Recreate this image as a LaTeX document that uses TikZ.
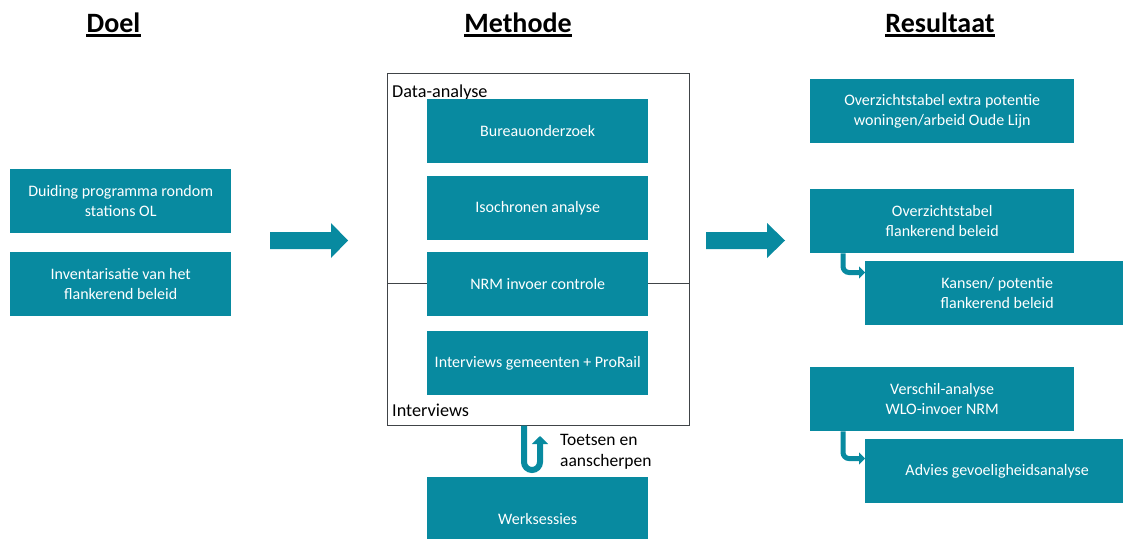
\documentclass[tikz,border=0pt]{standalone}
\usepackage{fontspec}
\setmainfont{Carlito}
\usetikzlibrary{arrows.meta,calc}
\definecolor{tealbox}{RGB}{8,138,160}
\definecolor{frame}{RGB}{64,68,72}
\tikzset{
  box/.style={fill=tealbox, text=white, inner sep=0pt, align=center, anchor=north west,
    minimum height=64, font=\fontsize{16}{20.5}\selectfont},
  wbox/.style={box, minimum width=221},
  rbox/.style={box, minimum width=264},
  heading/.style={font=\fontsize{28}{32}\selectfont\bfseries, anchor=base, inner sep=0pt},
  lbl/.style={font=\fontsize{18.2}{21}\selectfont, anchor=base west, inner sep=0pt, align=left},
  elbow/.style={draw=tealbox, line width=5, rounded corners=6, -{Triangle[width=12pt,length=6pt]}},
}
\begin{document}
\begin{tikzpicture}[x=1pt,y=-1pt]
\clip (0,0) rectangle (1123,538);
\fill[white] (0,0) rectangle (1123,538);

% headings
\node[heading] (hdoel) at (113.5,32) {Doel};
\node[heading] (hmeth) at (518,32) {Methode};
\node[heading] (hres) at (940,32) {Resultaat};
\foreach \h in {hdoel,hmeth,hres}{
  \draw[line width=2.5] ($(\h.base west)+(0,3.5)$) -- ($(\h.base east)+(0,3.5)$);
}

% Doel
\node[wbox] (d1) at (10,169) {Duiding programma rondom\\stations OL};
\node[wbox] (d2) at (10,252) {Inventarisatie van het\\flankerend beleid};

% block arrows
\fill[tealbox] (270,232) -- (331,232) -- (331,223) -- (348,240.5) -- (331,258) -- (331,249) -- (270,249) -- cycle;
\fill[tealbox] (706,232) -- (767,232) -- (767,223) -- (785,240.5) -- (767,258) -- (767,249) -- (706,249) -- cycle;

% Methode frame
\draw[frame, line width=1] (387,73) rectangle (689,425);
\draw[frame, line width=1] (387,283.5) -- (689,283.5);
\node[lbl] (ldata) at (392,97) {Data-analyse};
\node[lbl] (lint) at (392,416) {Interviews};

\node[wbox] (m1) at (427,99) {Bureauonderzoek};
\node[wbox] (m2) at (427,176) {Isochronen analyse};
\node[wbox] (m3) at (427,252) {NRM invoer controle};
\node[wbox] (m4) at (427,331) {Interviews gemeenten + ProRail};
\node[wbox, minimum height=83] (m5) at (427,477) {Werksessies};

% U-turn arrow
\coordinate (ustart) at (524,425.5);
\coordinate (uend) at (540,436);
\draw[tealbox, line width=6, -{Triangle[width=16pt,length=8pt]}] (ustart) -- (524,462) arc[start angle=180, end angle=0, radius=8] -- (uend);
\node[lbl, font=\fontsize{17.5}{21}\selectfont] (ltoets) at (560,466) {Toetsen en\\aanscherpen};

% Resultaat
\node[rbox] (r1) at (810,79) {Overzichtstabel extra potentie\\woningen/arbeid Oude Lijn};
\node[rbox] (r2) at (810,189) {Overzichtstabel\\flankerend beleid};
\node[rbox] (r3) at (865,261) {Kansen/ potentie\\flankerend beleid};
\node[rbox] (r4) at (810,367) {Verschil-analyse\\WLO-invoer NRM};
\node[rbox] (r5) at (865,439) {Advies gevoeligheidsanalyse};

\draw[elbow] ($(r2.south west)+(33,0)$) |- ($(r3.north west)+(0,11.5)$);
\draw[elbow] ($(r4.south west)+(33,0)$) |- ($(r5.north west)+(0,19.5)$);
\end{tikzpicture}
\end{document}
